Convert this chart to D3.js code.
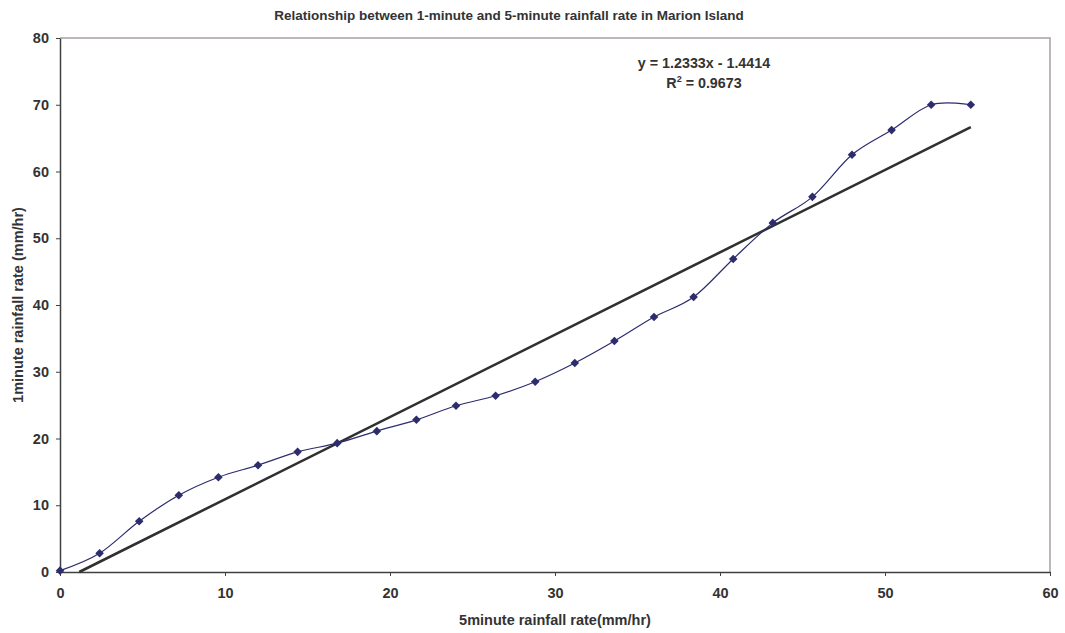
<!DOCTYPE html>
<html>
<head>
<meta charset="utf-8">
<script src="https://cdn.jsdelivr.net/npm/d3@7"></script>
<style>
  body { margin: 0; background: #fff; }
  svg { display: block; font-family: "Liberation Sans", Arial, sans-serif; }
</style>
</head>
<body>
<svg id="chart" width="1065" height="633"></svg>
<script>
// 5-minute rate (x) against 1-minute rate (y)
const rate5min = [0, 2.4, 4.8, 7.2, 9.6, 12, 14.4, 16.8, 19.2, 21.6, 24, 26.4, 28.8, 31.2, 33.6, 36, 38.4, 40.8, 43.2, 45.6, 48, 50.4, 52.8, 55.2];
const rate1min = [0.2, 2.8, 7.6, 11.5, 14.2, 16.0, 18.0, 19.3, 21.1, 22.8, 24.9, 26.4, 28.5, 31.3, 34.6, 38.2, 41.2, 46.9, 52.3, 56.2, 62.5, 66.2, 70.0, 70.0];
const xTicks = [0, 10, 20, 30, 40, 50, 60];
const yTicks = [0, 10, 20, 30, 40, 50, 60, 70, 80];
const slope = 1.2333, intercept = -1.4414;

const svg = d3.select("#chart");
const margin = { left: 60, right: 1050, top: 38, bottom: 572 };

const x = d3.scaleLinear().domain([0, 60]).range([margin.left, margin.right]);
const y = d3.scaleLinear().domain([0, 80]).range([margin.bottom, margin.top]);

const textCol = "#333333";

// frame: top and right in grey
svg.append("path")
  .attr("d", `M${x(0)},${y(80)}H${x(60)}V${y(0)}`)
  .attr("fill", "none")
  .attr("stroke", "#a8a0a0")
  .attr("stroke-width", 1.5);

// axes
const xAxis = svg.append("g")
  .attr("transform", `translate(0,${y(0)})`)
  .call(d3.axisBottom(x).tickValues(xTicks).tickSize(4).tickSizeOuter(0).tickPadding(12));
const yAxis = svg.append("g")
  .attr("transform", `translate(${x(0)},0)`)
  .call(d3.axisLeft(y).tickValues(yTicks).tickSize(4).tickSizeOuter(0).tickPadding(7));

[xAxis, yAxis].forEach(a => {
  a.select(".domain").attr("stroke", "#404040").attr("stroke-width", 1.5);
  a.selectAll(".tick line").attr("stroke", "#404040");
  a.selectAll(".tick text")
    .attr("fill", textCol)
    .style("font-size", "14.5px")
    .style("font-weight", "bold")
    .style("font-family", "Liberation Sans, Arial, sans-serif");
});

// trendline
const trendX = [-intercept / slope, 55.2];
svg.append("line")
  .attr("x1", x(trendX[0])).attr("y1", y(slope * trendX[0] + intercept))
  .attr("x2", x(trendX[1])).attr("y2", y(slope * trendX[1] + intercept))
  .attr("stroke", "#303030")
  .attr("stroke-width", 2.6);

// smoothed data line
const pts = rate5min.map((v, i) => [v, rate1min[i]]);
const line = d3.line()
  .x(d => x(d[0]))
  .y(d => y(d[1]))
  .curve(d3.curveCardinal.tension(0));

svg.append("path")
  .datum(pts)
  .attr("d", line)
  .attr("fill", "none")
  .attr("stroke", "#2d2d6e")
  .attr("stroke-width", 1.2);

svg.selectAll(".pt")
  .data(pts)
  .enter()
  .append("path")
  .attr("class", "pt")
  .attr("transform", d => `translate(${x(d[0])},${y(d[1])})`)
  .attr("d", "M0,-4.3L4.3,0L0,4.3L-4.3,0Z")
  .attr("fill", "#2d2d6e");

// title
svg.append("text")
  .attr("x", 509).attr("y", 20)
  .attr("text-anchor", "middle")
  .attr("fill", textCol)
  .style("font-size", "13.5px")
  .style("font-weight", "bold")
  .text("Relationship between 1-minute and 5-minute rainfall rate in Marion Island");

// axis titles
svg.append("text")
  .attr("x", x(30)).attr("y", 625)
  .attr("text-anchor", "middle")
  .attr("fill", textCol)
  .style("font-size", "14.5px")
  .style("font-weight", "bold")
  .text("5minute rainfall rate(mm/hr)");

svg.append("text")
  .attr("transform", `translate(23,${y(40)}) rotate(-90)`)
  .attr("text-anchor", "middle")
  .attr("fill", textCol)
  .style("font-size", "14.5px")
  .style("font-weight", "bold")
  .text("1minute rainfall rate (mm/hr)");

// equation
svg.append("text")
  .attr("x", 704).attr("y", 68)
  .attr("text-anchor", "middle")
  .attr("fill", textCol)
  .style("font-size", "14.3px")
  .style("font-weight", "bold")
  .text(`y = ${slope.toFixed(4)}x - ${Math.abs(intercept).toFixed(4)}`);

const r2 = svg.append("text")
  .attr("x", 704).attr("y", 88)
  .attr("text-anchor", "middle")
  .attr("fill", textCol)
  .style("font-size", "14.3px")
  .style("font-weight", "bold");
r2.append("tspan").text("R");
r2.append("tspan").attr("dy", -6).style("font-size", "9px").text("2");
r2.append("tspan").attr("dy", 6).text(" = 0.9673");
</script>
</body>
</html>
